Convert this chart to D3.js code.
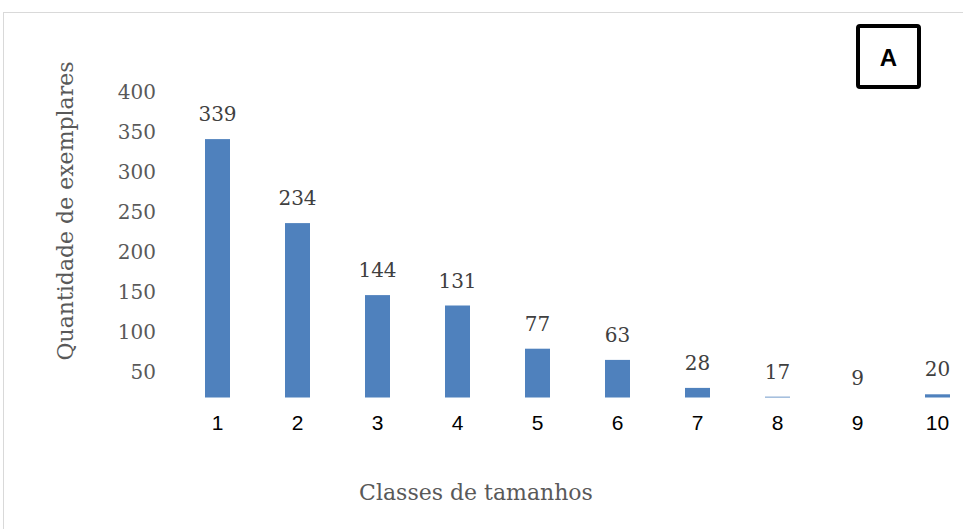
<!DOCTYPE html>
<html>
<head>
<meta charset="utf-8">
<script src="https://cdn.jsdelivr.net/npm/d3@7"></script>
<style>
  html, body { margin: 0; padding: 0; background: #fff; }
  svg { display: block; }
</style>
</head>
<body>
<svg id="chart" width="963" height="529"></svg>
<script>
const categories = ["1", "2", "3", "4", "5", "6", "7", "8", "9", "10"];
const values = [339, 234, 144, 131, 77, 63, 28, 17, 9, 20];
const yTicks = [50, 100, 150, 200, 250, 300, 350, 400];
const yTitle = "Quantidade de exemplares";
const xTitle = "Classes de tamanhos";
const panelLabel = "A";

const svg = d3.select("#chart");
const W = 963, H = 529;
const serif = "'DejaVu Serif', 'Liberation Serif', serif";
const sans = "'Liberation Sans', Arial, sans-serif";

// outer chart border
svg.append("rect")
  .attr("x", 3.5).attr("y", 12.5)
  .attr("width", W + 10).attr("height", H + 10)
  .attr("fill", "none").attr("stroke", "#d9d9d9").attr("stroke-width", 1);

const x = d3.scaleBand()
  .domain(categories)
  .range([177.5, 977.5])
  .paddingInner(0.6875)
  .paddingOuter(0.34375);

const y = d3.scaleLinear()
  .domain([16, 400])
  .range([397.5, 90.3]);

// y axis (labels only)
const yAxis = d3.axisLeft(y).tickValues(yTicks).tickSize(0).tickPadding(0);
const gy = svg.append("g").attr("transform", "translate(156,1.5)").call(yAxis);
gy.select(".domain").remove();
gy.selectAll("text")
  .attr("font-family", serif).attr("font-size", 20)
  .attr("fill", "#595959");

// x axis (labels only)
const xAxis = d3.axisBottom(x).tickSize(0).tickPadding(0);
const gx = svg.append("g").attr("transform", "translate(0,415)").call(xAxis);
gx.select(".domain").remove();
gx.selectAll("text")
  .attr("font-family", sans).attr("font-size", 21)
  .attr("fill", "#000");

// bars
svg.append("g").selectAll("rect")
  .data(values)
  .join("rect")
  .attr("x", (d, i) => x(categories[i]))
  .attr("width", x.bandwidth())
  .attr("y", d => Math.min(y(d), y.range()[0]))
  .attr("height", d => Math.max(0, y.range()[0] - y(d)))
  .attr("fill", "#4f81bd");

// value labels
svg.append("g").selectAll("text")
  .data(values)
  .join("text")
  .attr("x", (d, i) => x(categories[i]) + x.bandwidth() / 2)
  .attr("y", d => y(d) - 25)
  .attr("text-anchor", "middle")
  .attr("dominant-baseline", "central")
  .attr("font-family", serif).attr("font-size", 20)
  .attr("fill", "#404040")
  .text(d => d);

// axis titles
svg.append("text")
  .attr("transform", "translate(65,211) rotate(-90)")
  .attr("text-anchor", "middle")
  .attr("dominant-baseline", "central")
  .attr("font-family", serif).attr("font-size", 22)
  .attr("fill", "#595959")
  .text(yTitle);

svg.append("text")
  .attr("x", 476).attr("y", 492)
  .attr("text-anchor", "middle")
  .attr("dominant-baseline", "central")
  .attr("font-family", serif).attr("font-size", 22)
  .attr("fill", "#595959")
  .text(xTitle);

// panel label box
svg.append("rect")
  .attr("x", 858).attr("y", 26)
  .attr("width", 61).attr("height", 61)
  .attr("rx", 2)
  .attr("fill", "#fff").attr("stroke", "#000").attr("stroke-width", 4);
svg.append("text")
  .attr("x", 888.5).attr("y", 57)
  .attr("text-anchor", "middle")
  .attr("dominant-baseline", "central")
  .attr("font-family", sans).attr("font-weight", "bold").attr("font-size", 24)
  .attr("fill", "#000")
  .text(panelLabel);
</script>
</body>
</html>
